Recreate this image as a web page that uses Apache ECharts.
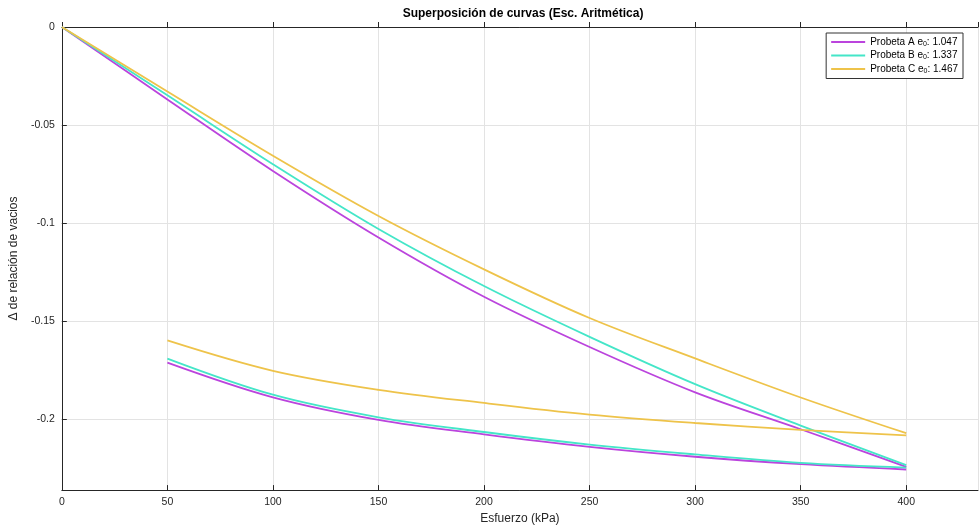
<!DOCTYPE html>
<html>
<head>
<meta charset="utf-8">
<script src="https://cdn.jsdelivr.net/npm/echarts@6/dist/echarts.min.js"></script>
<style>html,body{margin:0;padding:0;background:#fff}#c{width:980px;height:530px}</style>
</head>
<body>
<div id="c"></div>
<script>
const xLoad = [0, 50, 100, 150, 200, 250, 300, 350, 400];
const xUnload = [400, 350, 300, 250, 200, 150, 100, 50];
const loadA = [0, -0.0369, -0.0734, -0.1073, -0.1375, -0.1631, -0.1862, -0.2050, -0.2242];
const loadB = [0, -0.0348, -0.0699, -0.1029, -0.1320, -0.1579, -0.1820, -0.2031, -0.2233];
const loadC = [0, -0.0329, -0.0656, -0.0963, -0.1235, -0.1483, -0.1689, -0.1888, -0.2070];
const unloadA = [-0.2255, -0.2228, -0.2190, -0.2140, -0.2076, -0.2002, -0.1887, -0.1710];
const unloadB = [-0.2245, -0.2221, -0.2178, -0.2128, -0.2064, -0.1989, -0.1874, -0.1690];
const unloadC = [-0.2081, -0.2053, -0.2018, -0.1975, -0.1916, -0.1849, -0.1752, -0.1597];
const names = ['Probeta A', 'Probeta B', 'Probeta C'];
const e0 = ['1.047', '1.337', '1.467'];
const colors = ['#BB44DD', '#44E6C8', '#EEC34A'];

const pair = (xs, ys) => xs.map((x, i) => [x, ys[i]]);
const loads = [loadA, loadB, loadC];
const unloads = [unloadA, unloadB, unloadC];
const series = [];
names.forEach((n, i) => {
  [pair(xLoad, loads[i]), pair(xUnload, unloads[i])].forEach(d => {
    series.push({
      name: n, type: 'line', data: d, smooth: 0.35, showSymbol: false,
      lineStyle: { color: colors[i], width: 1.8 }, itemStyle: { color: colors[i] },
      xAxisIndex: 0, yAxisIndex: 0
    });
  });
});

const chart = echarts.init(document.getElementById('c'), null, { renderer: 'canvas' });
const axisCol = '#262626';
const font = 'Liberation Sans, Arial, sans-serif';
chart.setOption({
  animation: false,
  backgroundColor: '#fff',
  title: {
    text: 'Superposición de curvas (Esc. Aritmética)',
    left: 518, top: 3, textAlign: 'center',
    textStyle: { fontSize: 12, fontWeight: 'bold', color: '#000', fontFamily: font }
  },
  legend: {
    data: names,
    orient: 'vertical', right: 17, top: 33,
    backgroundColor: '#fff', borderColor: '#333', borderWidth: 1, borderRadius: 0,
    padding: [4, 5, 4, 5], itemGap: 3,
    icon: 'rect', itemWidth: 34, itemHeight: 2,
    formatter: function (name) {
      const i = names.indexOf(name);
      return '{t|' + name + ' e}{s|0}{t|: ' + e0[i] + '}';
    },
    textStyle: {
      fontFamily: font, color: '#000', fontSize: 10,
      rich: {
        t: { fontSize: 10, fontFamily: font, color: '#000' },
        s: { fontSize: 7, fontFamily: font, color: '#000', padding: [4, 0, 0, 0] }
      }
    }
  },
  grid: { left: 57, right: 2, top: 27, bottom: 35, containLabel: false },
  xAxis: [{
    type: 'value', min: 0, max: 434, interval: 50,
    name: 'Esfuerzo (kPa)', nameLocation: 'middle', nameGap: 22,
    nameTextStyle: { fontSize: 12, color: axisCol, fontFamily: font },
    axisLine: { show: true, onZero: false, lineStyle: { color: axisCol, width: 1 } },
    axisTick: { show: true, inside: true, length: 5, lineStyle: { color: axisCol } },
    axisLabel: { showMaxLabel: false, margin: 7, fontSize: 10.5, color: axisCol, fontFamily: font },
    splitLine: { show: true, lineStyle: { color: '#e3e3e3', width: 1 } }
  }, {
    type: 'value', min: 0, max: 434, interval: 50, position: 'top',
    axisLine: { show: true, onZero: false, lineStyle: { color: axisCol, width: 1 } },
    axisTick: { show: true, inside: false, length: 5, lineStyle: { color: axisCol } },
    axisLabel: { show: false }, splitLine: { show: false }
  }],
  yAxis: [{
    type: 'value', min: -0.236, max: 0, splitNumber: 5,
    name: 'Δ de relación de vacios', nameLocation: 'middle', nameGap: 38,
    nameTextStyle: { fontSize: 12, color: axisCol, fontFamily: font },
    axisLine: { show: true, onZero: false, lineStyle: { color: axisCol, width: 1 } },
    axisTick: { show: true, inside: true, length: 5, lineStyle: { color: axisCol } },
    axisLabel: { showMinLabel: false, margin: 7, fontSize: 10.5, color: axisCol, fontFamily: font,
      formatter: v => (v === 0 ? '0' : String(Math.round(v * 1000) / 1000)) },
    splitLine: { show: true, lineStyle: { color: '#e3e3e3', width: 1 } }
  }],
  series: series
});
</script>
</body>
</html>
